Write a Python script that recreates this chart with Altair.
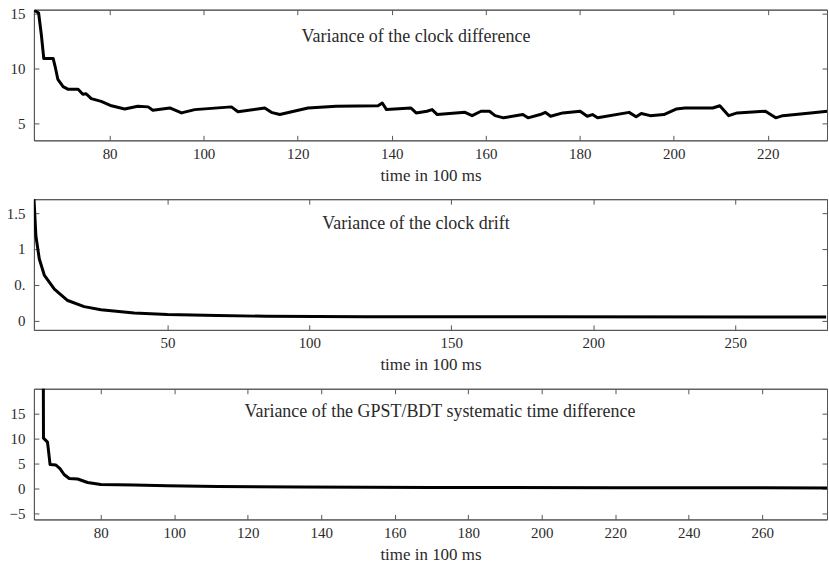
import altair as alt
import pandas as pd

# ---------- data ----------
t1 = [64.0, 64.9, 65.5, 66.0, 68.0, 68.4, 69.0, 70.1, 71.2, 73.3, 74.3, 75.0, 76.1, 78.2,
      80.4, 83.2, 86.0, 88.2, 89.2, 92.8, 95.3, 98.1, 105.9, 107.3, 113.0, 114.4, 116.2,
      122.2, 128.2, 137.1, 138.0, 138.9, 144.1, 145.2, 147.5, 148.6, 149.7, 155.6, 157.1,
      159.0, 160.8, 162.0, 163.8, 167.9, 169.0, 171.6, 172.7, 173.8, 176.4, 180.1, 181.6,
      182.7, 183.8, 190.5, 192.0, 193.1, 195.0, 197.9, 200.5, 202.4, 208.3, 209.8, 211.7,
      213.5, 219.5, 221.7, 223.2, 229.1, 232.7]
v1 = [15.3, 15.06, 13.0, 10.9, 10.9, 10.2, 9.0, 8.35, 8.1, 8.1, 7.65, 7.7, 7.25, 7.0,
      6.6, 6.3, 6.55, 6.5, 6.2, 6.4, 5.95, 6.25, 6.5, 6.05, 6.4, 6.0, 5.8,
      6.4, 6.55, 6.6, 6.85, 6.25, 6.4, 5.95, 6.1, 6.25, 5.8, 6.0, 5.7,
      6.1, 6.1, 5.7, 5.5, 5.8, 5.5, 5.8, 6.0, 5.65, 5.95, 6.1, 5.65,
      5.8, 5.5, 6.0, 5.6, 5.9, 5.7, 5.8, 6.3, 6.4, 6.4, 6.6, 5.7,
      5.95, 6.1, 5.5, 5.7, 5.95, 6.1]

t2 = [3.0, 3.7, 4.9, 6.7, 10.2, 14.9, 20.7, 26.6, 38.3, 50.0, 67.6, 85.0, 120.0, 180.0, 282.0]
v2 = [1.72, 1.18, 0.86, 0.63, 0.44, 0.28, 0.195, 0.15, 0.107, 0.084, 0.07, 0.06, 0.055, 0.052, 0.05]

t3 = [64.3, 64.4, 65.5, 66.2, 67.8, 68.9, 70.0, 71.4, 73.7, 76.4, 80.0, 89.0, 98.1,
      111.7, 134.3, 170.0, 220.0, 278.0]
v3 = [40.0, 10.1, 9.3, 4.8, 4.7, 4.0, 2.8, 2.0, 1.9, 1.2, 0.8, 0.7, 0.55,
      0.4, 0.3, 0.2, 0.15, 0.12]

x1_ticks = [80, 100, 120, 140, 160, 180, 200, 220]
y1_ticks = [5, 10, 15]
x2_ticks = [50, 100, 150, 200, 250]
y2_ticks = [0, 0.5, 1, 1.5]
x3_ticks = [80, 100, 120, 140, 160, 180, 200, 220, 240, 260]
y3_ticks = [-5, 0, 5, 10, 15]

titles = ["Variance of the clock difference",
          "Variance of the clock drift",
          "Variance of the GPST/BDT systematic time difference"]
x_title = "time in 100 ms"

FONT = "Liberation Serif"
W, H = 795, 131
AX = "#555555"
TXT = "#2a2a2a"


def axis(orient, values, title="", labels=True, label_expr=None):
    kw = dict(orient=orient, values=values, grid=False, labels=labels,
              tickSize={"expr": "-5"}, tickColor=AX, tickWidth=1,
              domainColor=AX, domainWidth=1,
              labelFont=FONT, labelFontSize=15, labelColor=TXT,
              labelOverlap=False, labelFlush=False,
              titleFont=FONT, titleFontSize=17, titleFontWeight="normal",
              titleColor=TXT, title=title)
    if orient in ("left", "right"):
        kw["labelPadding"] = 14
    else:
        kw["labelPadding"] = 11
        kw["titlePadding"] = 6
    if label_expr:
        kw["labelExpr"] = label_expr
    return alt.Axis(**kw)


def panel(t, v, xdom, ydom, xt, yt, ann, ax, ay, ylab_expr=None):
    df = pd.DataFrame({"t": t, "v": v})
    xs = alt.Scale(domain=xdom, nice=False, zero=False)
    ys = alt.Scale(domain=ydom, nice=False, zero=False)
    line = alt.Chart(df).mark_line(color="black", strokeWidth=3, clip=True,
                                   strokeJoin="round").encode(
        x=alt.X("t:Q", scale=xs, axis=axis("bottom", xt, title=x_title)),
        y=alt.Y("v:Q", scale=ys, axis=axis("left", yt, label_expr=ylab_expr)),
    )
    frame = alt.Chart(df).mark_line(opacity=0).encode(
        x=alt.X("t:Q", scale=xs, axis=axis("top", xt, labels=False)),
        y=alt.Y("v:Q", scale=ys, axis=axis("right", yt, labels=False)),
    )
    txt = alt.Chart(pd.DataFrame({"label": [ann]})).mark_text(
        font=FONT, fontSize=18, color=TXT, align="center", baseline="middle"
    ).encode(x=alt.value(ax), y=alt.value(ay), text="label:N")
    return (alt.layer(line, frame, txt)
            .resolve_axis(x="independent", y="independent")
            .properties(width=W, height=H))


p1 = panel(t1, v1, [63.9, 232.6], [3.45, 15.36], x1_ticks, y1_ticks, titles[0], 383, 27)
p2 = panel(t2, v2, [3.0, 282.3], [-0.13, 1.695], x2_ticks, y2_ticks, titles[1], 383, 25,
           ylab_expr="datum.value == 0.5 ? '0.' : format(datum.value, '~g')")
p3 = panel(t3, v3, [61.8, 277.6], [-6.2, 20], x3_ticks, y3_ticks, titles[2], 407, 23)

chart = (alt.vconcat(p1, p2, p3, spacing=59, bounds="flush")
         .properties(padding={"left": 5, "top": 5, "right": 0, "bottom": 0})
         .configure_view(stroke=AX, strokeWidth=1)
         .configure_axis(labelFont=FONT, labelFontSize=15, labelColor=TXT,
                         titleFont=FONT, titleFontSize=17, titleFontWeight="normal")
         .configure_text(font=FONT))

chart.save("out.html", embed_options={"renderer": "svg", "actions": False})
